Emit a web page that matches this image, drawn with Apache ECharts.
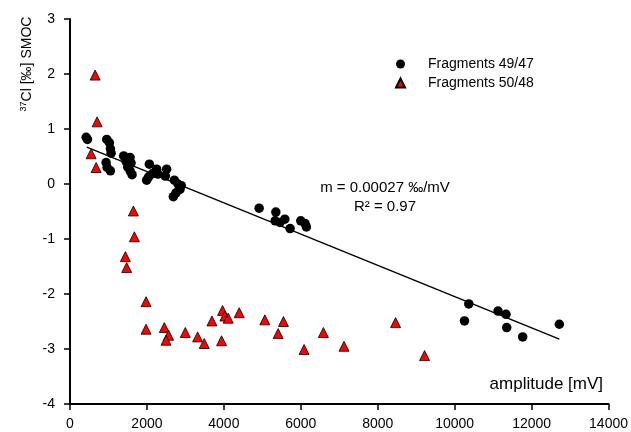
<!DOCTYPE html>
<html>
<head>
<meta charset="utf-8">
<script src="https://cdn.jsdelivr.net/npm/echarts@6/dist/echarts.min.js"></script>
<style>html,body{margin:0;padding:0;background:#fff;}#c{width:631px;height:432px;}</style>
</head>
<body>
<div id="c"></div>
<script>
const seriesNames = ['Fragments 49/47', 'Fragments 50/48'];
const frag4947X = [420, 454, 955, 1025, 1051, 1069, 939, 965, 1051, 1396, 1562, 1458, 1588, 1500, 1562, 1614, 2063, 1993, 2045, 2149, 2253, 2288, 2512, 2478, 2712, 2807, 2893, 2860, 2756, 2686, 4918, 5351, 5333, 5584, 5460, 5722, 5999, 6111, 6145, 10367, 10255, 11128, 11335, 11353, 11768, 12721];
const frag4947Y = [0.85, 0.81, 0.81, 0.75, 0.64, 0.56, 0.39, 0.30, 0.24, 0.51, 0.48, 0.41, 0.38, 0.31, 0.24, 0.17, 0.36, 0.07, 0.13, 0.19, 0.27, 0.18, 0.27, 0.145, 0.07, 0.0, -0.03, -0.10, -0.16, -0.23, -0.44, -0.51, -0.67, -0.64, -0.70, -0.81, -0.67, -0.72, -0.78, -2.18, -2.49, -2.31, -2.37, -2.61, -2.78, -2.55];
const frag5048X = [653, 705, 549, 679, 1648, 1674, 1440, 1474, 1977, 1977, 2452, 2564, 2496, 2997, 3317, 3490, 3690, 3940, 3966, 4027, 4113, 4399, 5065, 5411, 5549, 6085, 6587, 7123, 8464, 9217];
const frag5048Y = [1.98, 1.13, 0.55, 0.30, -0.49, -0.96, -1.32, -1.52, -2.14, -2.64, -2.61, -2.75, -2.84, -2.70, -2.78, -2.90, -2.49, -2.85, -2.30, -2.40, -2.44, -2.34, -2.47, -2.72, -2.50, -3.01, -2.70, -2.95, -2.52, -3.12];
const fitX = [436, 12721];
const fitY = [0.67, -2.82];
const xTicks = [0, 2000, 4000, 6000, 8000, 10000, 12000, 14000];
const yTicks = [-4, -3, -2, -1, 0, 1, 2, 3];

const zip = (a, b) => a.map((v, i) => [v, b[i]]);
const FONT = 'Liberation Sans, Arial, sans-serif';

const chart = echarts.init(document.getElementById('c'), null, {renderer: 'canvas'});
chart.setOption({
  animation: false,
  backgroundColor: '#fff',
  textStyle: {fontFamily: FONT, color: '#000'},
  grid: {left: 70, right: 21, top: 19, bottom: 28, containLabel: false},
  xAxis: {
    type: 'value', min: xTicks[0], max: xTicks[xTicks.length - 1], interval: 2000,
    axisLine: {show: true, onZero: false, lineStyle: {color: '#000', width: 2}},
    axisTick: {show: true, inside: false, length: 6, lineStyle: {color: '#000', width: 1.5}},
    axisLabel: {color: '#000', fontSize: 14, fontFamily: FONT, margin: 13, formatter: v => String(v)},
    splitLine: {show: false}
  },
  yAxis: {
    type: 'value', min: yTicks[0], max: yTicks[yTicks.length - 1], interval: 1,
    axisLine: {show: true, onZero: false, lineStyle: {color: '#000', width: 2}},
    axisTick: {show: true, inside: false, length: 6, lineStyle: {color: '#000', width: 1.5}},
    axisLabel: {color: '#000', fontSize: 14, fontFamily: FONT, margin: 15, formatter: v => String(v)},
    splitLine: {show: false}
  },
  legend: {
    data: seriesNames,
    orient: 'vertical',
    left: 390, top: 51,
    itemWidth: 9, itemHeight: 9, itemGap: 3,
    textStyle: {fontSize: 14, fontFamily: FONT, color: '#000', lineHeight: 16, padding: [0, 0, 0, 18]}
  },
  series: [
    {
      type: 'line', name: 'fit', data: zip(fitX, fitY), symbol: 'none', silent: true,
      lineStyle: {color: '#000', width: 1.5}, z: 1
    },
    {
      type: 'scatter', name: seriesNames[0], data: zip(frag4947X, frag4947Y),
      symbol: 'circle', symbolSize: 9.5,
      itemStyle: {color: '#000', opacity: 1}, z: 2
    },
    {
      type: 'scatter', name: seriesNames[1], data: zip(frag5048X, frag5048Y),
      symbol: 'triangle', symbolSize: 10,
      itemStyle: {color: '#ff0000', borderColor: '#000', borderWidth: 0.8, opacity: 1}, z: 3
    }
  ],
  graphic: [
    {
      type: 'text',
      style: {
        text: 'm = 0.00027 \u2030/mV', fontSize: 15, fontFamily: FONT, fill: '#000',
        x: 385, y: 188, align: 'center', verticalAlign: 'middle'
      }
    },
    {
      type: 'text',
      style: {
        text: 'R\u00b2 = 0.97', fontSize: 15, fontFamily: FONT, fill: '#000',
        x: 385, y: 207, align: 'center', verticalAlign: 'middle'
      }
    },
    {
      type: 'text',
      style: {
        text: 'amplitude [mV]', fontSize: 17, fontFamily: FONT, fill: '#000',
        x: 603, y: 384, align: 'right', verticalAlign: 'middle'
      }
    },
    {
      type: 'text', x: 27, y: 64, rotation: Math.PI / 2,
      style: {
        text: '{s|37}{m|Cl [\u2030] SMOC}', fontFamily: FONT, fill: '#000',
        align: 'center', verticalAlign: 'middle',
        rich: {
          s: {fontSize: 9, fontFamily: FONT, fill: '#000', padding: [0, 0, 7, 0]},
          m: {fontSize: 14, fontFamily: FONT, fill: '#000'}
        }
      }
    }
  ]
});
</script>
</body>
</html>
